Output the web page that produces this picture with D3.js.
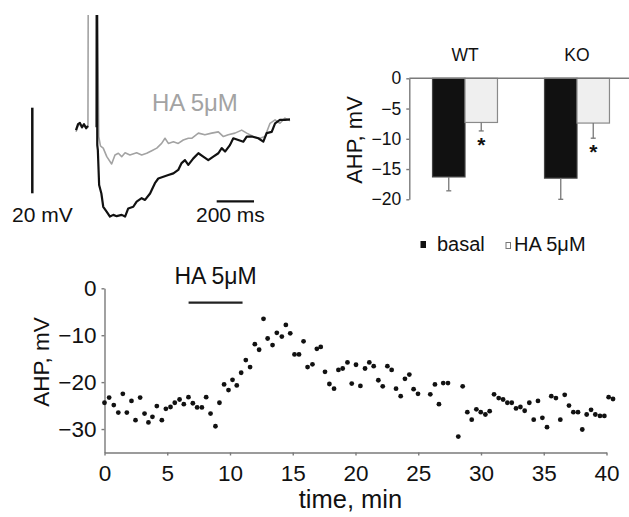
<!DOCTYPE html>
<html lang="en">
<head>
<meta charset="utf-8">
<title>AHP, histamine 5 μM</title>
<script src="https://cdn.jsdelivr.net/npm/d3@7/dist/d3.min.js"></script>
<style>
  body { margin: 0; background: #fff; }
  svg { display: block; font-family: "Liberation Sans", Arial, Helvetica, sans-serif; }
  .axis path, .axis line { stroke: #7a7a7a; stroke-width: 1.4; }
  .axis text { fill: #111; }
</style>
</head>
<body>
<svg id="fig" width="629" height="517"></svg>
<script>
// ---- data ----

// example traces: [time ms, mV from baseline]; spikes run off the top (clipped)
var traceBasal = [
  [0,-0.5],[11,0.9],[21,1.2],[32,0.2],[43,0.9],[54,0],[64,0.5], null,
  [110,0.2],[111,40],[112,40],[114,-4],[117,-5.1],[124,-13.3],[136,-15.3],[146,-18.4],
  [165,-19.6],[182,-20.7],[200,-20.3],[218,-20.6],[245,-20.3],[263,-20.7],[280,-18.8],
  [307,-18.4],[325,-17.2],[352,-16.4],[370,-16.8],[397,-15.3],[423,-12.9],[441,-11.8],
  [468,-11.4],[495,-11.0],[522,-10.6],[548,-9.8],[566,-8.2],[584,-7.5],[602,-8.6],
  [629,-7.1],[656,-5.9],[682,-6.7],[709,-7.5],[736,-6.7],[763,-5.9],[781,-4.7],
  [799,-5.5],[825,-4.0],[843,-2.4],[870,-2.8],[897,-3.2],[915,-2.0],[942,-2.0],
  [977,-2.4],[1004,-3.2],[1022,-1.2],[1049,-0.9],[1067,1.1],[1093,1.9],[1120,1.9],[1147,2.0]
];
var traceHA = [
  [0,-0.9],[11,0.5],[21,0.9],[32,0],[43,0.7],[54,-0.2],[64,0.2],[66,40],[67,40],
  [113,40],[122,-2],[131,-4.2],[137,-4.4],[146,-4.7],[165,-6.7],[191,-8.4],[209,-6.3],
  [227,-5.9],[245,-6.7],[263,-5.8],[289,-6.3],[325,-5.8],[352,-6.3],[379,-5.9],
  [406,-5.3],[433,-4.7],[459,-3.6],[477,-2.4],[495,-3.6],[522,-3.2],[548,-3.6],
  [575,-2.8],[602,-2.4],[620,-2.4],[656,-1.2],[691,-1.6],[727,-1.2],[763,-0.9],
  [790,-2.0],[816,-1.6],[852,-1.2],[888,-0.5],[915,-1.2],[950,-2.0],[986,-2.4],
  [1013,-2.0],[1040,1.1],[1067,1.9],[1093,1.1],[1120,2.3],[1147,1.7]
];

// bar chart
var groups = ['WT', 'KO'];
var conditions = ['basal', 'HA 5μM'];
var basalMean = [-16.3, -16.5];
var basalErr = [2.3, 3.5];
var haMean = [-7.3, -7.4];
var haErr = [1.4, 2.5];
var barTicks = [0, -5, -10, -15, -20];

// time course
var timeMin = [0,0.37,0.74,1.1,1.46,1.78,2.15,2.47,2.84,3.19,3.5,3.82,4.17,4.57,4.89,5.26,5.6,5.98,6.32,6.69,
  7.04,7.38,7.76,8.1,8.45,8.84,9.16,9.53,9.88,10.2,10.54,10.89,11.26,11.6,11.98,12.32,12.67,13.0,13.39,13.73,
  14.13,14.45,14.8,15.14,15.5,15.86,16.18,16.57,16.92,17.23,17.57,17.92,18.29,18.64,18.98,19.36,19.7,20.04,20.39,
  20.76,21.1,21.45,21.82,22.17,22.54,22.88,23.23,23.6,23.94,24.29,24.63,24.98,25.96,26.33,26.65,26.99,27.37,28.19,28.54,
  28.91,29.26,29.63,29.98,30.35,30.69,31.04,31.41,31.76,32.1,32.45,32.79,33.14,33.48,33.85,34.2,34.54,34.89,35.26,35.6,
  35.97,36.32,36.67,37.01,37.36,37.73,38.07,38.42,38.77,39.11,39.48,39.83,40.17,40.52];
var ahpMv = [-24.4,-23.3,-24.9,-26.5,-22.5,-26.5,-24.0,-28.1,-23.3,-26.7,-28.6,-27.4,-25.1,-28.1,-25.7,-25.3,-24.4,-23.7,-24.7,-23.2,
  -24.5,-25.4,-25.4,-23.2,-26.7,-29.4,-24.4,-20.5,-21.7,-19.5,-20.7,-18.0,-15.3,-16.8,-11.9,-13.1,-6.5,-10.7,-12.1,-9.5,
  -10.3,-7.8,-9.6,-14.1,-14.1,-11.3,-16.8,-16.2,-12.9,-12.5,-17.8,-20.4,-21.4,-17.4,-17.1,-15.8,-20.3,-16.3,-20.8,
  -17.1,-15.8,-16.6,-19.6,-20.9,-16.6,-17.4,-21.4,-23.0,-19.3,-18.4,-21.5,-22.5,-22.6,-20.5,-24.7,-20.2,-20.2,-31.6,-20.9,
  -26.4,-28.0,-25.8,-26.4,-26.9,-26.2,-22.6,-23.4,-23.7,-24.4,-24.4,-25.6,-25.3,-26.1,-24.4,-28.0,-24.0,-27.6,-29.6,-23.0,
  -23.4,-28.0,-22.7,-25.0,-26.4,-26.4,-30.1,-26.9,-25.9,-26.9,-27.2,-27.2,-23.2,-23.6];
var timeTicks = [0, 5, 10, 15, 20, 25, 30, 35, 40];
var ahpTicks = [0, -10, -20, -30];
var haWindow = [6.7, 11];

var svg = d3.select('#fig');

// ---- panel A: traces ----
var xT = d3.scaleLinear().domain([0, 1147]).range([76, 290]);
var yT = d3.scaleLinear().domain([0, 20]).range([128, 42.4]);

svg.append('clipPath').attr('id', 'traceClip')
  .append('rect').attr('x', 0).attr('y', 15).attr('width', 320).attr('height', 230);

var traceLine = d3.line()
  .defined(function(d) { return d !== null; })
  .x(function(d) { return xT(d[0]); })
  .y(function(d) { return yT(d[1]); });

var traces = svg.append('g').attr('clip-path', 'url(#traceClip)');
traces.append('path').datum(traceHA)
  .attr('d', traceLine).attr('fill', 'none')
  .attr('stroke', '#a3a3a3').attr('stroke-width', 1.6).attr('stroke-linejoin', 'round');
traces.append('path').datum(traceBasal)
  .attr('d', traceLine).attr('fill', 'none')
  .attr('stroke', '#111').attr('stroke-width', 2.2).attr('stroke-linejoin', 'round');

svg.append('text').attr('x', 152).attr('y', 111)
  .attr('font-size', 24).attr('fill', '#a3a3a3').text('HA 5μM');

// scale bars: 20 mV, 200 ms
svg.append('line')
  .attr('x1', 32.3).attr('x2', 32.3)
  .attr('y1', 193.3).attr('y2', 193.3 - (yT(0) - yT(20)))
  .attr('stroke', '#111').attr('stroke-width', 2.5);
svg.append('line')
  .attr('x1', 216.7).attr('x2', 216.7 + (xT(200) - xT(0)))
  .attr('y1', 201.3).attr('y2', 201.3)
  .attr('stroke', '#111').attr('stroke-width', 2.2);
svg.append('text').attr('x', 12).attr('y', 221.5).attr('font-size', 21).attr('fill', '#111').text('20 mV');
svg.append('text').attr('x', 196).attr('y', 221.5).attr('font-size', 21).attr('fill', '#111').text('200 ms');

// ---- panel B: bar chart ----
var xB = d3.scaleBand().domain(groups).range([409, 633]).paddingInner(0.42).paddingOuter(0.21);
var xSub = d3.scaleBand().domain(conditions).range([0, xB.bandwidth()]);
var yB = d3.scaleLinear().domain([-20, 0]).range([199.3, 78.3]);

var gB = svg.append('g');
gB.append('g').attr('class', 'axis')
  .attr('transform', 'translate(409.3,0)')
  .call(d3.axisLeft(yB).tickValues(barTicks).tickSize(3).tickSizeOuter(0).tickPadding(5))
  .call(function(g) {
    g.selectAll('text').attr('font-size', 17.5).attr('font-family', null);
  });

var bars = [];
groups.forEach(function(grp, i) {
  bars.push({ group: grp, cond: conditions[0], mean: basalMean[i], err: basalErr[i] });
  bars.push({ group: grp, cond: conditions[1], mean: haMean[i], err: haErr[i] });
});

gB.selectAll('rect.bar').data(bars).enter().append('rect')
  .attr('class', 'bar')
  .attr('x', function(d) { return xB(d.group) + xSub(d.cond); })
  .attr('y', yB(0))
  .attr('width', xSub.bandwidth())
  .attr('height', function(d) { return yB(d.mean) - yB(0); })
  .attr('fill', function(d) { return d.cond === 'basal' ? '#111' : '#efefef'; })
  .attr('stroke', function(d) { return d.cond === 'basal' ? '#444' : '#8a8a8a'; })
  .attr('stroke-width', 1.2);

// error bars (downward only)
var errG = gB.selectAll('g.err').data(bars).enter().append('g').attr('class', 'err');
errG.append('line')
  .attr('x1', function(d) { return xB(d.group) + xSub(d.cond) + xSub.bandwidth() / 2; })
  .attr('x2', function(d) { return xB(d.group) + xSub(d.cond) + xSub.bandwidth() / 2; })
  .attr('y1', function(d) { return yB(d.mean); })
  .attr('y2', function(d) { return yB(d.mean - d.err); })
  .attr('stroke', '#777').attr('stroke-width', 1.3);
errG.append('line')
  .attr('x1', function(d) { return xB(d.group) + xSub(d.cond) + xSub.bandwidth() / 2 - 2.5; })
  .attr('x2', function(d) { return xB(d.group) + xSub(d.cond) + xSub.bandwidth() / 2 + 2.5; })
  .attr('y1', function(d) { return yB(d.mean - d.err); })
  .attr('y2', function(d) { return yB(d.mean - d.err); })
  .attr('stroke', '#777').attr('stroke-width', 1.3);

// zero line over the bars
gB.append('line')
  .attr('x1', 409.3).attr('x2', 629).attr('y1', yB(0)).attr('y2', yB(0))
  .attr('stroke', '#7a7a7a').attr('stroke-width', 1.4);

// significance marks on HA bars
gB.selectAll('text.sig').data(bars.filter(function(d) { return d.cond !== 'basal'; }))
  .enter().append('text').attr('class', 'sig')
  .attr('x', function(d) { return xB(d.group) + xSub(d.cond) + xSub.bandwidth() / 2; })
  .attr('y', function(d) { return yB(d.mean - d.err) + 21; })
  .attr('text-anchor', 'middle').attr('font-size', 21).attr('font-weight', 'bold')
  .attr('fill', '#111').text('*');

gB.selectAll('text.grp').data(groups).enter().append('text').attr('class', 'grp')
  .attr('x', function(d) { return xB(d) + xB.bandwidth() / 2; })
  .attr('y', 61)
  .attr('text-anchor', 'middle').attr('font-size', 17.5).attr('fill', '#111')
  .text(function(d) { return d; });

gB.append('text')
  .attr('transform', 'translate(362,140) rotate(-90)')
  .attr('text-anchor', 'middle').attr('font-size', 22).attr('fill', '#111')
  .text('AHP, mV');

// legend
gB.append('rect').attr('x', 420.5).attr('y', 241).attr('width', 5.5).attr('height', 7).attr('fill', '#111');
gB.append('text').attr('x', 437).attr('y', 251).attr('font-size', 20).attr('fill', '#111').text(conditions[0]);
gB.append('rect').attr('x', 506).attr('y', 242.5).attr('width', 4.5).attr('height', 6)
  .attr('fill', '#fff').attr('stroke', '#777').attr('stroke-width', 1);
gB.append('text').attr('x', 514).attr('y', 251).attr('font-size', 20).attr('fill', '#111').text(conditions[1]);

// ---- panel C: time course ----
var xC = d3.scaleLinear().domain([0, 40]).range([104.5, 606.5]);
var yC = d3.scaleLinear().domain([-35, 0]).range([452.5, 288.3]);

var gC = svg.append('g');
gC.append('g').attr('class', 'axis')
  .attr('transform', 'translate(0,' + yC(-35) + ')')
  .call(d3.axisBottom(xC).tickValues(timeTicks).tickSize(3).tickSizeOuter(0).tickPadding(10))
  .call(function(g) {
    g.selectAll('text').attr('font-size', 22.5).attr('font-family', null);
  });
gC.append('g').attr('class', 'axis')
  .attr('transform', 'translate(' + xC(0) + ',0)')
  .call(d3.axisLeft(yC).tickValues(ahpTicks).tickSize(3).tickSizeOuter(0).tickPadding(5))
  .call(function(g) {
    g.selectAll('text').attr('font-size', 22.5).attr('font-family', null);
  });

gC.selectAll('circle').data(timeMin).enter().append('circle')
  .attr('cx', function(d) { return xC(d); })
  .attr('cy', function(d, i) { return yC(ahpMv[i]); })
  .attr('r', 2.4).attr('fill', '#111');

// drug application
gC.append('line')
  .attr('x1', xC(haWindow[0])).attr('x2', xC(haWindow[1]))
  .attr('y1', 302.7).attr('y2', 302.7)
  .attr('stroke', '#222').attr('stroke-width', 2.2);
gC.append('text')
  .attr('x', (xC(haWindow[0]) + xC(haWindow[1])) / 2).attr('y', 284)
  .attr('text-anchor', 'middle').attr('font-size', 23).attr('fill', '#111')
  .text('HA 5μM');

gC.append('text')
  .attr('transform', 'translate(49,362) rotate(-90)')
  .attr('text-anchor', 'middle').attr('font-size', 22.5).attr('fill', '#111')
  .text('AHP, mV');
gC.append('text')
  .attr('x', xC(20) - 5).attr('y', 508)
  .attr('text-anchor', 'middle').attr('font-size', 25.5).attr('fill', '#111')
  .text('time, min');
</script>
</body>
</html>
